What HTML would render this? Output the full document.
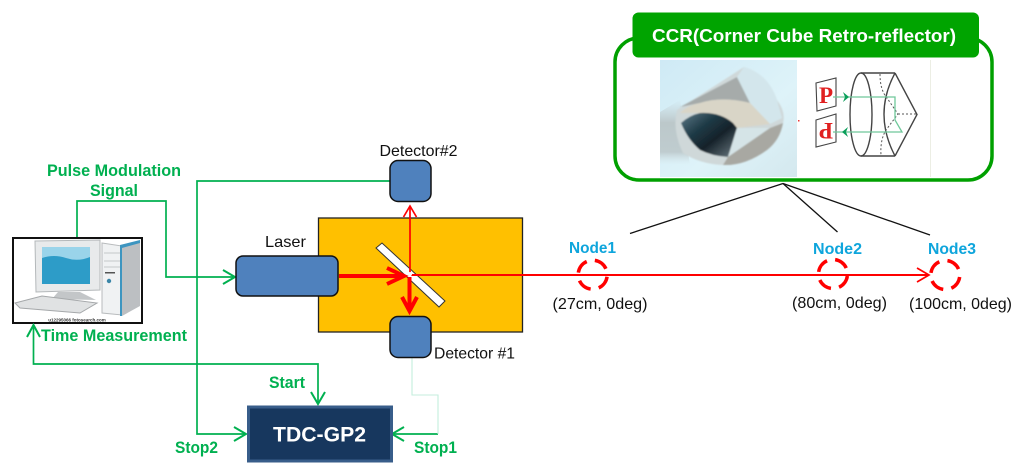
<!DOCTYPE html>
<html><head><meta charset="utf-8"><style>
html,body{margin:0;padding:0;background:#fff}
svg{display:block;filter:blur(.35px)}
text{font-family:"Liberation Sans",sans-serif}
.g{fill:#00b050;font-weight:bold;font-size:16.5px}
.b{fill:#111;font-size:16px}
.n{fill:#0ea5dc;font-weight:bold;font-size:15.5px}
</style></head><body>
<svg width="1024" height="474" viewBox="0 0 1024 474" xmlns="http://www.w3.org/2000/svg">
<defs>
<linearGradient id="ph" x1="0" y1="0" x2="1" y2="1"><stop offset="0" stop-color="#cfeaf5"/><stop offset=".6" stop-color="#def3f9"/><stop offset="1" stop-color="#d4e8ee"/></linearGradient>
<linearGradient id="dk" x1="0" y1="0" x2="1" y2="1"><stop offset="0" stop-color="#5d7a88"/><stop offset=".35" stop-color="#1e3a46"/><stop offset=".6" stop-color="#16222a"/><stop offset="1" stop-color="#6c7c84"/></linearGradient>
<linearGradient id="sh" x1="0" y1="0" x2="0" y2="1"><stop offset="0" stop-color="#c3cfd2" stop-opacity="0"/><stop offset=".35" stop-color="#bcc8ca"/><stop offset=".8" stop-color="#bfcccf"/><stop offset="1" stop-color="#d6e6ea" stop-opacity="0"/></linearGradient>
<filter id="soft" x="-10%" y="-10%" width="120%" height="120%"><feGaussianBlur stdDeviation=".7"/></filter>
</defs>
<rect width="1024" height="474" fill="#fff"/>

<!-- Computer -->
<rect x="13" y="238" width="129" height="85" fill="#fff" stroke="#111" stroke-width="2"/>
<polygon points="35,241 100,240 100,290 36,292" fill="#e8eaeb" stroke="#b4b8ba"/>
<rect x="42" y="247" width="48" height="37" fill="#2d9cc8"/>
<path d="M42 247h48v10q-12 5-24 1t-24 0z" fill="#9ad4ea"/>
<polygon points="58,292 80,292 96,300 52,299" fill="#c3c6c8"/>
<polygon points="15,303 42,296 97,303 80,313 20,308" fill="#e0e2e3" stroke="#a5a8aa"/>
<polygon points="102,243 122,246 122,315 102,313" fill="#f0f2f3" stroke="#b8bbbd"/>
<polygon points="122,246 140,241 140,306 122,316" fill="#bcbfc2"/>
<polygon points="120,245 140,240 140,243 122,248 122,316 120,316" fill="#3d95c0"/>
<path d="M104 253h16M104 261h16M104 267h16" stroke="#c5c8ca" stroke-width="1"/>
<rect x="105" y="272" width="10" height="1.500" fill="#555"/>
<circle cx="109" cy="281" r="2.200" fill="#3b86a8"/>
<text x="77" y="321.500" font-size="4.500" font-weight="bold" text-anchor="middle" fill="#333">u12295066 fotosearch.com</text>

<!-- Orange box -->
<rect x="318.500" y="218" width="204" height="114" fill="#ffc000" stroke="#222" stroke-width="1.300"/>

<!-- Green connectors -->
<g fill="none" stroke="#00b050" stroke-width="1.700">
<path d="M77 237V201H166V277H235"/>
<path d="M223 270l12 7-12 7" stroke-width="2"/>
<path d="M390 181H197V434H246"/>
<path d="M234 427l12 7-12 7" stroke-width="2"/>
<path d="M33.500 326V364H318V404"/>
<path d="M27 337l6.500-12 6.500 12" stroke-width="2"/>
<path d="M311 392l7 12 7-12" stroke-width="2"/>
<path d="M438 434H392"/>
<path d="M404 427l-12 7 12 7" stroke-width="2"/>
<path d="M412 357V395H438V434" stroke="#c4eedd" stroke-width="1.100"/>
</g>

<!-- Mirror -->
<polygon points="376,248 382,243 445,301 439,307" fill="#fff" stroke="#333" stroke-width="1"/>

<!-- Blue blocks -->
<g fill="#4f81bd" stroke="#111" stroke-width="1.500">
<rect x="236" y="256" width="102" height="40" rx="7"/>
<rect x="390" y="160.500" width="41" height="41" rx="8"/>
<rect x="390" y="316.500" width="41" height="41" rx="8"/>
</g>

<!-- Red beams -->
<g fill="none" stroke="#ff0000">
<path d="M339 276H404" stroke-width="4"/>
<path d="M387 268l17 8-17 8" stroke-width="4"/>
<path d="M409.500 277V311" stroke-width="4"/>
<path d="M402 297l7.500 14 7.500-14" stroke-width="4"/>
<path d="M410 274V207" stroke-width="1.700"/>
<path d="M403.500 217l6.500-11 6.500 11" stroke-width="1.700"/>
<path d="M411 275H928" stroke-width="1.900"/>
<path d="M917 268l12 7-12 7" stroke-width="1.700"/>
</g>
<circle cx="410" cy="274" r="2" fill="#fff"/>

<!-- Dashed nodes -->
<g fill="none" stroke="#ff0000" stroke-width="3.500" stroke-dasharray="14.500 8.280">
<circle cx="592.700" cy="274.700" r="14.500" transform="rotate(8 592.700 274.700)"/>
<circle cx="833" cy="274" r="14.500" transform="rotate(8 833 274)"/>
<circle cx="945.300" cy="275" r="14.500" transform="rotate(8 945.300 275)"/>
</g>

<!-- Black leader lines -->
<g stroke="#111" stroke-width="1.300" fill="none">
<path d="M630 233.500L783 183.500"/>
<path d="M837.500 232L783 183.500"/>
<path d="M930 235L783 183.500"/>
</g>

<!-- CCR panel -->
<rect x="615" y="38" width="377" height="142" rx="24" fill="#fff" stroke="#00a000" stroke-width="3.500"/>
<rect x="660" y="60" width="137" height="117" fill="url(#ph)"/>
<path d="M660 112L680 100L690 165H660Z" fill="url(#sh)"/>
<g filter="url(#soft)">
<path d="M677 110L744 67Q768 74 777 100Q786 112 783 123Q780 140 767 150Q745 166 723 165Q700 164 683 153Q672 130 677 110Z" fill="#cfd8d9"/>
<path d="M680 107L737 77L750 103Q722 96 700 103Z" fill="#a6abaa"/>
<path d="M737 77L744 67Q768 74 777 100L782 118L770 124L750 103Z" fill="#d3e6ec"/>
<path d="M680 113Q688 105 700 103Q722 96 750 103L770 124L737 128Q720 112 700 113Z" fill="#d9d5c7"/>
<path d="M681 123Q690 115 700 113Q720 112 733 123L737 128L728 157Q712 156 700 150Q688 140 681 123Z" fill="url(#dk)"/>
<path d="M737 128L770 128L728 157Z" fill="#d5e4e7"/>
<path d="M770 128L783 123Q780 140 767 150Q745 166 723 165L728 157Z" fill="#a8a8a2"/>
</g>
<rect x="797" y="60" width="133" height="117" fill="#fff"/>
<line x1="930.500" y1="60" x2="930.500" y2="177" stroke="#eceee4"/>
<rect x="798" y="120" width="1.500" height="1.500" fill="#e33"/>
<g fill="#fff" stroke="#444" stroke-width="1.100">
<polygon points="816,83 836,78 836,106 817,111"/>
<polygon points="816,120 836,114 836,142 816,147"/>
</g>
<text x="826" y="103" font-weight="bold" font-size="23" fill="#e02020" text-anchor="middle" style="font-family:'Liberation Serif',serif">P</text>
<text transform="rotate(180 826 130.500)" x="826" y="138" font-weight="bold" font-size="23" fill="#e02020" text-anchor="middle" style="font-family:'Liberation Serif',serif">P</text>
<g fill="none" stroke="#444" stroke-width="1.400">
<ellipse cx="861" cy="114.500" rx="11" ry="41.500"/>
<path d="M861 73H895M861 156H895"/>
<path d="M895 73Q873 114 895 156M895 73L917 114.500L895 156"/>
</g>
<g fill="none" stroke="#555" stroke-width="1" stroke-dasharray="2 2">
<path d="M880 74Q880 90 887 98L898 114L886 130Q880 140 881 155M898 114H917"/>
</g>
<g fill="none" stroke="#6fc89a" stroke-width="1.300">
<path d="M833 97H895V120L902 132H833"/>
</g>
<polygon points="849,97 843,92 845,97 843,102" fill="#0a9f5a"/>
<polygon points="842,132 848,127 846,132 848,137" fill="#0a9f5a"/>

<rect x="632.500" y="12.500" width="346.500" height="45" rx="6" fill="#00a400"/>
<text x="652" y="42" font-size="18.500" font-weight="bold" fill="#fff" textLength="304" lengthAdjust="spacingAndGlyphs">CCR(Corner Cube Retro-reflector)</text>

<!-- TDC -->
<rect x="248.500" y="407" width="143" height="54" fill="#17375e" stroke="#385d8a" stroke-width="3"/>
<text x="273" y="441.500" font-size="21" font-weight="bold" fill="#fff" textLength="93" lengthAdjust="spacingAndGlyphs">TDC-GP2</text>

<!-- Labels -->
<g>
<text class="g" x="47" y="176" textLength="134" lengthAdjust="spacingAndGlyphs">Pulse Modulation</text>
<text class="g" x="90" y="196" textLength="48" lengthAdjust="spacingAndGlyphs">Signal</text>
<text class="g" x="41" y="341" textLength="146" lengthAdjust="spacingAndGlyphs">Time Measurement</text>
<text class="g" x="269" y="388" textLength="36" lengthAdjust="spacingAndGlyphs">Start</text>
<text class="g" x="175" y="453" textLength="43" lengthAdjust="spacingAndGlyphs">Stop2</text>
<text class="g" x="414" y="453" textLength="43" lengthAdjust="spacingAndGlyphs">Stop1</text>
<text class="b" x="265" y="247" textLength="41" lengthAdjust="spacingAndGlyphs">Laser</text>
<text class="b" x="379.500" y="156" textLength="78" lengthAdjust="spacingAndGlyphs">Detector#2</text>
<text class="b" x="434" y="358.500" textLength="81" lengthAdjust="spacingAndGlyphs">Detector #1</text>
<text class="n" x="569" y="253" textLength="47" lengthAdjust="spacingAndGlyphs">Node1</text>
<text class="n" x="813" y="254" textLength="49" lengthAdjust="spacingAndGlyphs">Node2</text>
<text class="n" x="928" y="254" textLength="48" lengthAdjust="spacingAndGlyphs">Node3</text>
<text class="b" x="552.500" y="309" textLength="95" lengthAdjust="spacingAndGlyphs">(27cm, 0deg)</text>
<text class="b" x="792" y="308" textLength="95" lengthAdjust="spacingAndGlyphs">(80cm, 0deg)</text>
<text class="b" x="909" y="309" textLength="103" lengthAdjust="spacingAndGlyphs">(100cm, 0deg)</text>
</g>
</svg>
</body></html>
